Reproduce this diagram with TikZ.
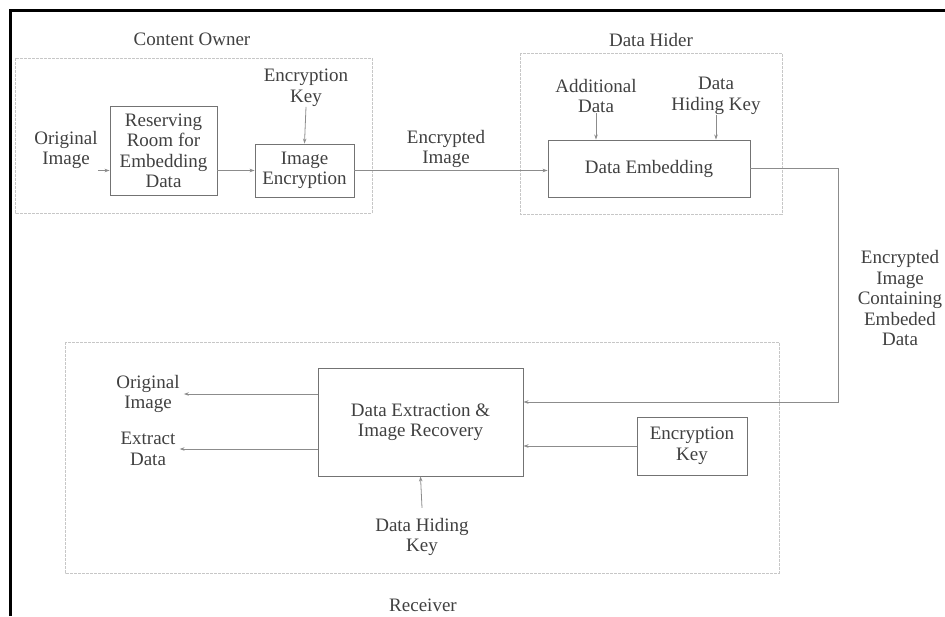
\documentclass[tikz,border=0pt]{standalone}
\usepackage{fontspec}
\setmainfont{Liberation Serif}
\usetikzlibrary{arrows.meta,positioning,calc}

\begin{document}
\begin{tikzpicture}[x=1pt,y=-1pt,
        elemsty/.style={
            draw=black!55, line width=0.9pt, rectangle, align=center,
            inner sep=0pt, text=black!75, font=\fontsize{19}{20.5}\selectfont,
        },
        txtsty/.style={
            align=center, inner sep=0pt, text=black!75,
            font=\fontsize{19}{20.5}\selectfont,
        },
        grpsty/.style={
            draw=black!22, line width=1pt, dash pattern=on 3pt off 1pt
        },
        arrsty/.style={
            draw=black!45, line width=0.8pt, -{Stealth[length=5pt,width=3.5pt]}
        }
    ]
    \useasboundingbox (0,0) rectangle (945,616);
    \draw[line width=3pt] (10,616) -- (10,10) -- (945,10);

    % the three parties
    \draw[grpsty] (15,58) rectangle (372,213);
    \draw[grpsty] (520,53) rectangle (782,214);
    \draw[grpsty] (65,342) rectangle (779,573);
    \node[txtsty] at (192,39) (owner) {Content Owner};
    \node[txtsty] at (651,40) (hider) {Data Hider};
    \node[txtsty] at (423,605) (recv) {Receiver};

    % content owner
    \node[elemsty, minimum width=107pt, minimum height=89pt] at (163.5,151) (res) {Reserving\\Room for\\Embedding\\Data};
    \node[elemsty, minimum width=99pt, minimum height=53pt] at (304.5,170.5) (imgenc) {Image\\Encryption};
    \node[txtsty] at (66,150) (orig1) {Original\\Image};
    \node[txtsty] at (306,88) (key1) {Encryption\\Key};
    \node[txtsty] at (446,149) (encimg) {Encrypted\\Image};

    % data hider
    \node[elemsty, minimum width=202pt, minimum height=57pt] at (649,168.5) (dataemb) {Data Embedding};
    \node[txtsty] at (596,96) (adddata) {Additional\\Data};
    \node[txtsty] at (716,96) (hidekey1) {Data\\Hiding Key};
    \node[txtsty] at (900,298) (embimg) {Encrypted\\Image\\Containing\\Embeded\\Data};

    % receiver
    \node[elemsty, minimum width=205pt, minimum height=108pt] at (420.5,422) (dataext) {Data Extraction \&\\Image Recovery};
    \node[elemsty, minimum width=110pt, minimum height=58pt] at (692,446) (enckey2) {Encryption\\Key};
    \node[txtsty] at (148,394) (orig2) {Original\\Image};
    \node[txtsty] at (148,449) (extr) {Extract\\Data};
    \node[txtsty] at (422,537) (hidekey2) {Data Hiding\\Key};

    \draw[arrsty] (orig1.east |- imgenc.west) -- (res.west |- imgenc.west);
    \draw[arrsty] (res.east |- imgenc.west) -- (imgenc.west);
    \draw[arrsty] (key1.south) -- (imgenc.north);
    \draw[arrsty] (imgenc.east) -- (dataemb.west |- imgenc.east);
    \draw[arrsty] (adddata.south) -- (adddata.south |- dataemb.north);
    \draw[arrsty] (hidekey1.south) -- (hidekey1.south |- dataemb.north);

    \coordinate (turn) at ($(dataemb.east)+(88,0)$);
    \draw[arrsty] (dataemb.east) -- (turn) |- ([yshift=20pt]dataext.east);
    \draw[arrsty] (enckey2.west) -- (enckey2.west -| dataext.east);
    \draw[arrsty] (dataext.west |- orig2.east) -- ([xshift=4pt]orig2.east);
    \draw[arrsty] (dataext.west |- extr.east) -- ([xshift=4pt]extr.east);
    \draw[arrsty] ([yshift=10pt]hidekey2.north) -- (dataext.south);
\end{tikzpicture}
\end{document}
